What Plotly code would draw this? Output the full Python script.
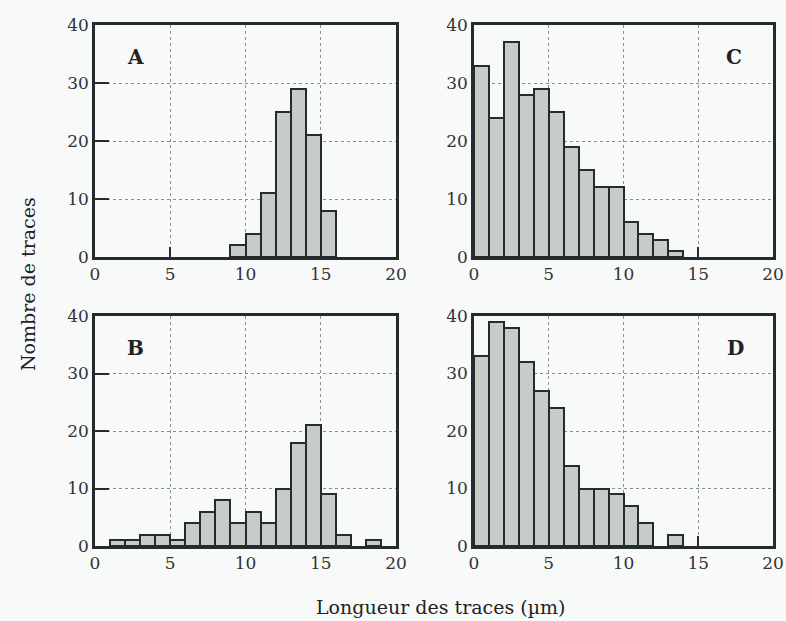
import plotly.graph_objects as go

# bin edges: width 1 µm from 0 to 20
bin_left = list(range(0, 20))

counts_a = [0, 0, 0, 0, 0, 0, 0, 0, 0, 2, 4, 11, 25, 29, 21, 8, 0, 0, 0, 0]
counts_b = [0, 1, 1, 2, 2, 1, 4, 6, 8, 4, 6, 4, 10, 18, 21, 9, 2, 0, 1, 0]
counts_c = [33, 24, 37, 28, 29, 25, 19, 15, 12, 12, 6, 4, 3, 1, 0, 0, 0, 0, 0, 0]
counts_d = [33, 39, 38, 32, 27, 24, 14, 10, 10, 9, 7, 4, 0, 2, 0, 0, 0, 0, 0, 0]

panel_labels = ["A", "B", "C", "D"]
x_ticks = [0, 5, 10, 15, 20]
y_ticks = [0, 10, 20, 30, 40]

BG = "#f8fafa"
FILL = "#c6cdc9"
EDGE = "#262b2b"
FONT = "DejaVu Serif"

W, H = 786, 621

# plot-area pixel boxes (left, right, top, bottom)
boxes = {
    "A": (95, 396, 25, 257),
    "C": (474, 773, 25, 257),
    "B": (95, 396, 316, 546),
    "D": (474, 773, 316, 546),
}
data = {"A": counts_a, "B": counts_b, "C": counts_c, "D": counts_d}
label_x = {"A": 0.133, "B": 0.133, "C": 0.87, "D": 0.875}

fig = go.Figure()

for i, key in enumerate(panel_labels):
    n = "" if i == 0 else str(i + 1)
    l, r, t, b = boxes[key]
    xd = [l / W, r / W]
    yd = [1 - b / H, 1 - t / H]
    counts = data[key]
    xs = [v + 0.5 for v, c in zip(bin_left, counts) if c > 0]
    ys = [c for c in counts if c > 0]

    fig.add_trace(go.Bar(
        x=xs, y=ys, width=1.0,
        marker=dict(color=FILL, line=dict(color=EDGE, width=2)),
        xaxis="x" + n, yaxis="y" + n,
        showlegend=False, hoverinfo="skip"
    ))

    fig.update_layout(**{
        "xaxis" + n: dict(
            domain=xd, range=[0, 20], tickvals=x_ticks, automargin=False,
            ticklabeloverflow="allow",
            showgrid=True, gridcolor="#8a8f8f", griddash="dot", gridwidth=1,
            zeroline=False, showline=True, linecolor=EDGE, linewidth=2.5,
            mirror=True, ticks="inside", ticklen=10, tickwidth=2,
            tickcolor=EDGE, anchor="y" + n,
            tickfont=dict(family=FONT, size=17, color="#333"),
            layer="below traces"
        ),
        "yaxis" + n: dict(
            domain=yd, range=[0, 40], tickvals=y_ticks, automargin=False,
            ticklabeloverflow="allow",
            showgrid=True, gridcolor="#8a8f8f", griddash="dot", gridwidth=1,
            zeroline=False, showline=True, linecolor=EDGE, linewidth=2.5,
            mirror=True, ticks="inside", ticklen=14, tickwidth=2,
            tickcolor=EDGE, anchor="x" + n,
            tickfont=dict(family=FONT, size=17, color="#333"),
            layer="below traces"
        ),
    })

    fig.add_annotation(
        text="<b>" + key + "</b>", xref="x" + n + " domain", yref="y" + n + " domain",
        x=label_x[key], y=0.86, xanchor="center", yanchor="middle", showarrow=False,
        font=dict(family=FONT, size=20, color="#222")
    )

fig.add_annotation(
    text="Nombre de traces", xref="paper", yref="paper",
    x=28 / W, y=1 - 284 / H, textangle=-90, showarrow=False,
    xanchor="center", yanchor="middle",
    font=dict(family=FONT, size=19, color="#222")
)
fig.add_annotation(
    text="Longueur des traces (µm)", xref="paper", yref="paper",
    x=440 / W, y=1 - 607 / H, showarrow=False,
    xanchor="center", yanchor="middle",
    font=dict(family=FONT, size=19, color="#222")
)

fig.update_layout(
    width=W, height=H,
    margin=dict(l=0, r=0, t=0, b=0, autoexpand=False),
    plot_bgcolor=BG, paper_bgcolor=BG,
    bargap=0,
)

fig.write_html("out.html", config={"displayModeBar": False},
               post_script="document.body.style.margin='0px';")
